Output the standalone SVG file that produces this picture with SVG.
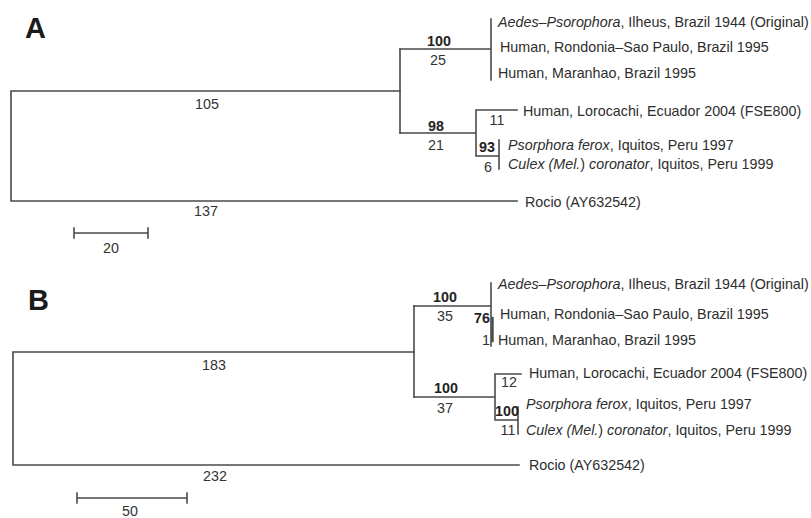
<svg xmlns="http://www.w3.org/2000/svg" width="811" height="518" viewBox="0 0 811 518">
<style>
.br{stroke:#4a4a4a;stroke-width:1.6;fill:none;stroke-linecap:square}
.t{font-family:"Liberation Sans",Arial,sans-serif;font-size:14.3px;fill:#2e2e2e}
.n{font-family:"Liberation Sans",Arial,sans-serif;font-size:14.3px;fill:#333}
.b{font-weight:bold;fill:#222}
.c{text-anchor:middle}
.lab{font-family:"Liberation Sans",Arial,sans-serif;font-size:29px;font-weight:bold;fill:#1a1a1a}
</style>
<rect width="811" height="518" fill="#fff"/>
<g id="connectors">
<!-- Tree A -->
<path class="br" d="M400,91 H11 V201 H517"/>
<path class="br" d="M400,49 V133"/>
<path class="br" d="M400,49 H491 M491,19 V80"/>
<path class="br" d="M400,133 H476 M476,110 V156 M476,110 H517 M476,156 H499 M499,140 V169"/>
<path class="br" d="M74,233 H148 M74,228 V238 M148,228 V238"/>
<!-- Tree B -->
<path class="br" d="M414,352 H13 V465 H519"/>
<path class="br" d="M414,306 V397"/>
<path class="br" d="M414,306 H491 M491,283 V346"/>
<path class="br" d="M492.5,318 V341" style="stroke-width:2.4"/>
<path class="br" d="M414,397 H495 M495,374 V420 M495,374 H521 M495,420 H518 M518,407 V434"/>
<path class="br" d="M77,498 H187 M77,493 V503 M187,493 V503"/>
</g>
<g id="panelA">
<text class="lab" x="25" y="38">A</text>
<g id="a-aedes"><text class="t" x="498" y="27"><tspan font-style="italic">Aedes–Psorophora</tspan>, Ilheus, Brazil 1944 (Original)</text></g>
<g id="a-rondonia"><text class="t" x="500" y="52">Human, Rondonia–Sao Paulo, Brazil 1995</text></g>
<g id="a-maranhao"><text class="t" x="498" y="78">Human, Maranhao, Brazil 1995</text></g>
<g id="a-lorocachi"><text class="t" x="523" y="116">Human, Lorocachi, Ecuador 2004 (FSE800)</text></g>
<g id="a-psorphora"><text class="t" x="508" y="150"><tspan font-style="italic">Psorphora ferox</tspan>, Iquitos, Peru 1997</text></g>
<g id="a-culex"><text class="t" x="508" y="169"><tspan font-style="italic">Culex (Mel.</tspan>) <tspan font-style="italic">coronator</tspan>, Iquitos, Peru 1999</text></g>
<g id="a-rocio"><text class="t" x="525" y="207">Rocio (AY632542)</text></g>
<text class="n b c" x="439" y="46">100</text>
<text class="n c" x="438" y="65">25</text>
<text class="n b c" x="436" y="131">98</text>
<text class="n c" x="436" y="150">21</text>
<text class="n c" x="497" y="125">11</text>
<text class="n b c" x="487" y="152">93</text>
<text class="n c" x="488" y="172">6</text>
<text class="n c" x="207" y="109">105</text>
<text class="n c" x="206" y="216">137</text>
<text class="n c" x="111" y="253">20</text>
</g>
<g id="panelB">
<text class="lab" x="28" y="310">B</text>
<g id="b-aedes"><text class="t" x="498" y="289"><tspan font-style="italic">Aedes–Psorophora</tspan>, Ilheus, Brazil 1944 (Original)</text></g>
<g id="b-rondonia"><text class="t" x="500" y="319">Human, Rondonia–Sao Paulo, Brazil 1995</text></g>
<g id="b-maranhao"><text class="t" x="498" y="345">Human, Maranhao, Brazil 1995</text></g>
<g id="b-lorocachi"><text class="t" x="529" y="378">Human, Lorocachi, Ecuador 2004 (FSE800)</text></g>
<g id="b-psorphora"><text class="t" x="526" y="409"><tspan font-style="italic">Psorphora ferox</tspan>, Iquitos, Peru 1997</text></g>
<g id="b-culex"><text class="t" x="526" y="435"><tspan font-style="italic">Culex (Mel.</tspan>) <tspan font-style="italic">coronator</tspan>, Iquitos, Peru 1999</text></g>
<g id="b-rocio"><text class="t" x="529" y="470">Rocio (AY632542)</text></g>
<text class="n b c" x="445" y="302">100</text>
<text class="n c" x="445" y="321">35</text>
<text class="n b c" x="482" y="323">76</text>
<text class="n c" x="486" y="345">1</text>
<text class="n b c" x="446" y="393">100</text>
<text class="n c" x="445" y="413">37</text>
<text class="n c" x="509" y="387">12</text>
<text class="n b c" x="507" y="416">100</text>
<text class="n c" x="508" y="435">11</text>
<text class="n c" x="214" y="370">183</text>
<text class="n c" x="215" y="481">232</text>
<text class="n c" x="130" y="516">50</text>
</g>
</svg>
